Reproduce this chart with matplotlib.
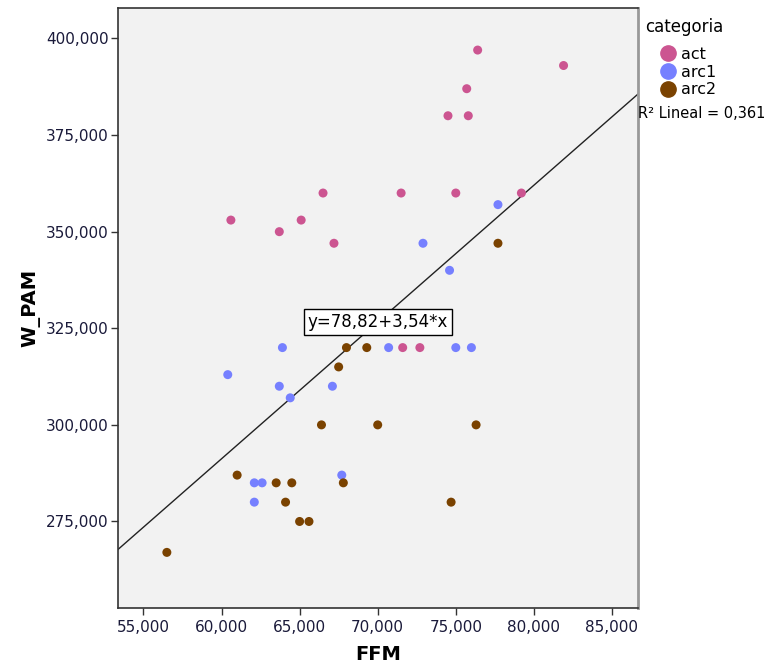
import matplotlib
matplotlib.use('Agg')
import matplotlib.pyplot as plt
from matplotlib.ticker import FuncFormatter
from matplotlib.lines import Line2D
import numpy as np

# FFM / W_PAM per categoria
act_x = [60.6, 63.7, 65.1, 66.5, 67.2, 71.5, 76.4, 81.9, 75.7, 74.5, 75.8, 75.0, 79.2, 71.6, 72.7]
act_y = [353, 350, 353, 360, 347, 360, 397, 393, 387, 380, 380, 360, 360, 320, 320]

arc1_x = [72.9, 77.7, 74.6, 63.9, 60.4, 63.7, 64.4, 70.7, 67.1, 62.1, 62.6, 67.7, 62.1, 75.0, 76.0]
arc1_y = [347, 357, 340, 320, 313, 310, 307, 320, 310, 285, 285, 287, 280, 320, 320]

arc2_x = [77.7, 68.0, 69.3, 67.5, 66.4, 70.0, 76.3, 61.0, 63.5, 64.5, 67.8, 64.1, 65.0, 65.6, 56.5, 74.7]
arc2_y = [347, 320, 320, 315, 300, 300, 300, 287, 285, 285, 285, 280, 275, 275, 267, 280]

groups = ['act', 'arc1', 'arc2']
colors = ['#cc5591', '#7680ff', '#7a4200']

intercept = 78.82
slope = 3.54
r2 = 0.361

x_ticks = [55, 60, 65, 70, 75, 80, 85]
y_ticks = [275, 300, 325, 350, 375, 400]


def comma_fmt(v, pos):
    return f'{v:.3f}'.replace('.', ',')


fig = plt.figure(figsize=(7.68, 6.72), dpi=100)
ax = fig.add_axes([0.1536, 0.0952, 0.677, 0.8924])
ax.set_facecolor('#f2f2f2')

data = [(act_x, act_y), (arc1_x, arc1_y), (arc2_x, arc2_y)]
for (xs, ys), name, col in zip(data, groups, colors):
    ax.scatter(xs, ys, s=42, color=col, edgecolors='none', label=name, zorder=3)

xlim = (53.37, 86.66)
ylim = (252.6, 407.8)
line_x = np.array(xlim)
ax.plot(line_x, intercept + slope * line_x, color='#222222', lw=1.0, zorder=2)
ax.set_xlim(xlim)
ax.set_ylim(ylim)

ax.text(70.02, 326.6, 'y=78,82+3,54*x', ha='center', va='center', fontsize=12,
        zorder=4, bbox=dict(facecolor='white', edgecolor='black', lw=1.0,
                            boxstyle='square,pad=0.25'))

ax.set_xticks(x_ticks)
ax.set_yticks(y_ticks)
ax.xaxis.set_major_formatter(FuncFormatter(comma_fmt))
ax.yaxis.set_major_formatter(FuncFormatter(comma_fmt))
ax.tick_params(direction='out', length=5, width=1, colors='#333333',
               labelsize=11, labelcolor='#1a1a3a')
ax.tick_params(axis='y', pad=1.5)

for side in ['left', 'bottom', 'top']:
    ax.spines[side].set_color('#333333')
    ax.spines[side].set_linewidth(1.2)
ax.spines['right'].set_color('#999999')
ax.spines['right'].set_linewidth(2)

ax.set_xlabel('FFM', fontsize=14, fontweight='bold', labelpad=7)
ax.set_ylabel('W_PAM', fontsize=14, fontweight='bold', labelpad=4)

handles = [Line2D([], [], marker='o', ls='none', color=c, markersize=11) for c in colors]
lgd = fig.legend(handles, groups, loc='upper left', bbox_to_anchor=(0.8255, 0.99),
                 frameon=False, title='categoria', fontsize=11.5, title_fontsize=12,
                 handlelength=2.9, handletextpad=-0.65, labelspacing=0.17,
                 borderpad=0.2)
lgd._legend_box.align = 'left'
lgd._legend_box.sep = 8

fig.text(638 / 768, 1 - 113 / 672, 'R² Lineal = 0,361', ha='left', va='center',
         fontsize=10.5)

plt.savefig('out.png', dpi=100)
